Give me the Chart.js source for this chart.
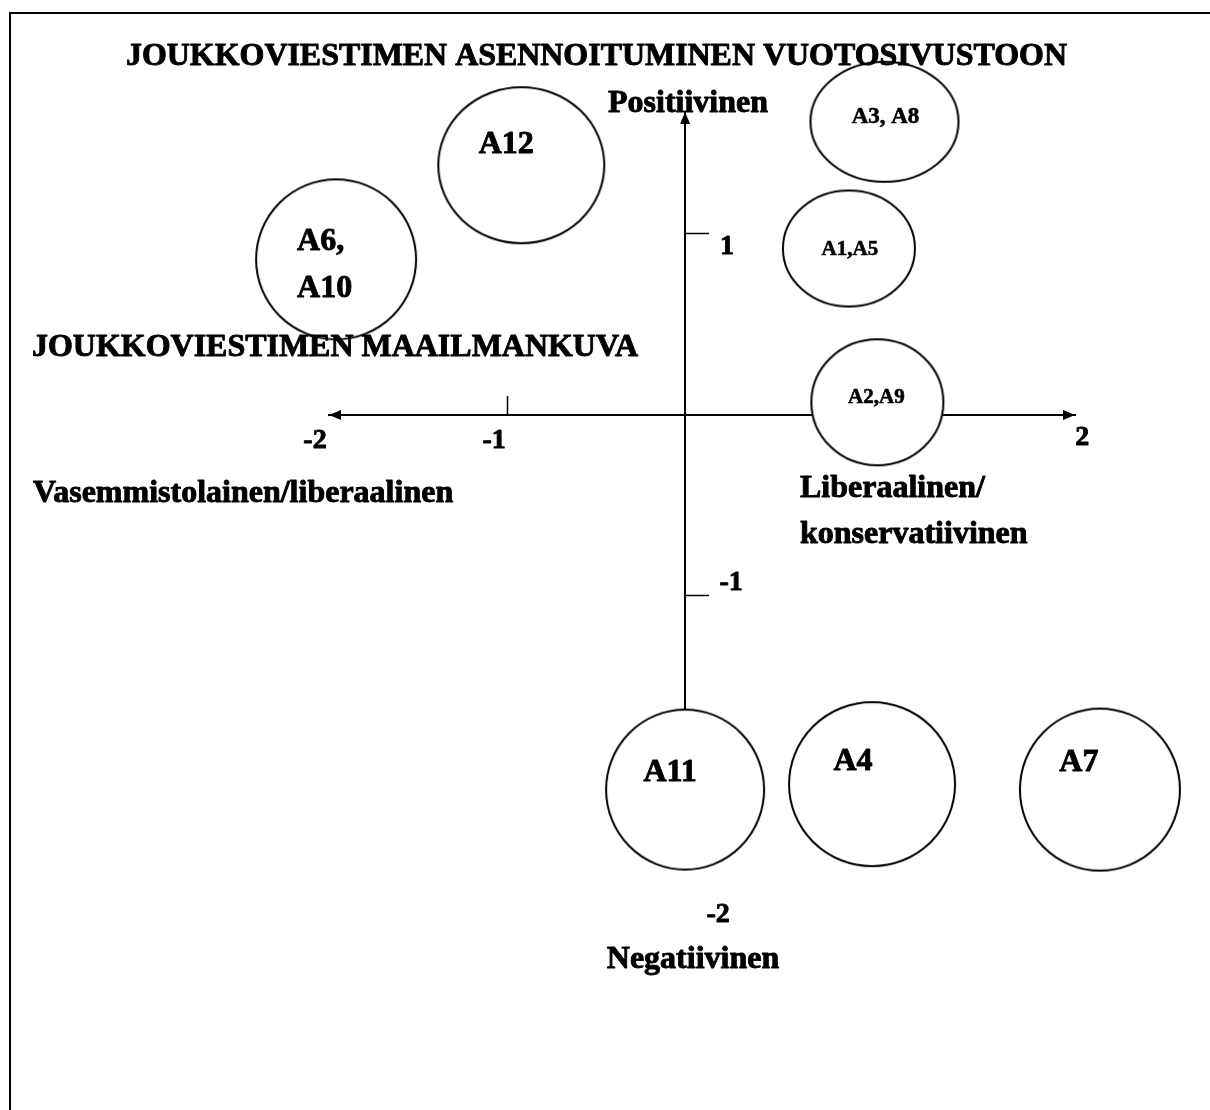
<!DOCTYPE html>
<html>
<head>
<meta charset="utf-8">
<script src="https://cdn.jsdelivr.net/npm/chart.js@4.4.1/dist/chart.umd.min.js"></script>
<style>
  html, body { margin: 0; padding: 0; background: #fff; overflow: hidden; }
  #wrap { width: 1210px; height: 1110px; position: relative; }
</style>
</head>
<body>
<div id="wrap"><canvas id="chart"></canvas></div>
<script>
const groupLabels = [['A12'], ['A6,', 'A10'], ['A3, A8'], ['A1,A5'], ['A2,A9'], ['A11'], ['A4'], ['A7']];
const xValues = [-0.92, -1.96, 1.12, 0.92, 1.08, 0, 1.05, 2.33];
const yValues = [1.38, 0.86, 1.62, 0.92, 0.07, -2.07, -2.04, -2.07];
const xTickValues = [-2, -1, 2];
const yTickValues = [1, -1, -2];
const xMarkedTicks = [-1];
const yMarkedTicks = [1, -1];
const xRange = [-2, 2.19];
const yRange = [-2.1, 1.674];
const chartTitle = 'JOUKKOVIESTIMEN ASENNOITUMINEN VUOTOSIVUSTOON';
const xAxisTitle = 'JOUKKOVIESTIMEN MAAILMANKUVA';
const yTopLabel = 'Positiivinen';
const yBottomLabel = 'Negatiivinen';
const xLeftLabel = 'Vasemmistolainen/liberaalinen';
const xRightLabel = ['Liberaalinen/', 'konservatiivinen'];

const FONT = '"Liberation Serif", "Times New Roman", serif';

// ellipse size and label placement for each group (px)
const bubbleStyle = [
  { rx: 83, ry: 78, size: 32, dx: -15, dy: -20 },
  { rx: 80, ry: 80, size: 32, dx: -39, dy: -18, align: 'left', gap: 47 },
  { rx: 74, ry: 60, size: 23, dx: 1, dy: -5 },
  { rx: 66, ry: 58, size: 21, dx: 1, dy: 1 },
  { rx: 66, ry: 63, size: 21, dx: -1, dy: -5 },
  { rx: 79, ry: 80, size: 32, dx: -15, dy: -17 },
  { rx: 83, ry: 82, size: 32, dx: -19, dy: -22 },
  { rx: 80, ry: 81, size: 32, dx: -21, dy: -27 }
];
const xTickNudge = { '-2': [-14, 26], '-1': [-13, 26], '2': [41, 23] };
const yTickNudge = { '1': [42, 13], '-1': [46, -13], '-2': [33, 138] };

function ellipseImage(rx, ry) {
  const c = document.createElement('canvas');
  c.width = 2 * rx + 6;
  c.height = 2 * ry + 6;
  const g = c.getContext('2d');
  g.beginPath();
  g.ellipse(c.width / 2, c.height / 2, rx, ry, 0, 0, Math.PI * 2);
  g.fillStyle = '#fff';
  g.fill();
  g.lineWidth = 2;
  g.strokeStyle = '#000';
  g.stroke();
  return c;
}
const shapes = bubbleStyle.map(s => ellipseImage(s.rx, s.ry));

function text(ctx, str, x, y, size, align, baseline, maxWidth) {
  ctx.font = 'bold ' + size + 'px ' + FONT;
  ctx.textAlign = align || 'left';
  ctx.textBaseline = baseline || 'alphabetic';
  ctx.fillStyle = '#000';
  ctx.strokeStyle = '#000';
  ctx.lineWidth = size > 25 ? 0.9 : 0.6;
  ctx.lineJoin = 'round';
  if (maxWidth) {
    ctx.fillText(str, x, y, maxWidth);
    ctx.strokeText(str, x, y, maxWidth);
  } else {
    ctx.fillText(str, x, y);
    ctx.strokeText(str, x, y);
  }
}

const paper = {
  id: 'paper',
  beforeDraw(chart) {
    const ctx = chart.ctx;
    ctx.save();
    ctx.fillStyle = '#fff';
    ctx.fillRect(0, 0, chart.width, chart.height);
    ctx.strokeStyle = '#000';
    ctx.lineWidth = 2;
    ctx.strokeRect(10, 13, chart.width + 40, chart.height + 40);
    ctx.restore();
  }
};

const arrows = {
  id: 'arrows',
  beforeDatasetsDraw(chart) {
    const { ctx, scales: { x, y } } = chart;
    const x0 = x.getPixelForValue(0);
    const y0 = y.getPixelForValue(0);
    const head = (tx, ty, dx, dy) => {
      const len = 12, w = 5;
      ctx.beginPath();
      ctx.moveTo(tx, ty);
      ctx.lineTo(tx - dx * len - dy * w, ty - dy * len - dx * w);
      ctx.lineTo(tx - dx * len + dy * w, ty - dy * len + dx * w);
      ctx.closePath();
      ctx.fill();
    };
    ctx.save();
    ctx.fillStyle = '#000';
    head(x.left, y0, -1, 0);
    head(x.right, y0, 1, 0);
    head(x0, y.top, 0, -1);
    ctx.restore();
  }
};

const labels = {
  id: 'labels',
  afterDatasetsDraw(chart) {
    const { ctx, scales: { x, y } } = chart;
    const x0 = x.getPixelForValue(0);
    const y0 = y.getPixelForValue(0);
    ctx.save();
    text(ctx, chartTitle, 126, 65, 32, 'left', 'alphabetic', 941);
    text(ctx, yTopLabel, 608, 112, 32);
    text(ctx, xAxisTitle, 32, 356, 32, 'left', 'alphabetic', 606);
    text(ctx, xLeftLabel, 33, 502, 32);
    text(ctx, xRightLabel[0], 800, 497, 32);
    text(ctx, xRightLabel[1], 800, 543, 32);
    text(ctx, yBottomLabel, 693, 968, 32, 'center');

    xTickValues.forEach(v => {
      const n = xTickNudge[String(v)];
      text(ctx, String(v), x.getPixelForValue(v) + n[0], y0 + n[1], 28, 'center', 'middle');
    });
    yTickValues.forEach(v => {
      const n = yTickNudge[String(v)];
      text(ctx, String(v), x0 + n[0], y.getPixelForValue(v) + n[1], 28, 'center', 'middle');
    });

    const meta = chart.getDatasetMeta(0);
    meta.data.forEach((pt, i) => {
      const s = bubbleStyle[i];
      groupLabels[i].forEach((line, k) => {
        text(ctx, line, pt.x + s.dx, pt.y + s.dy + k * (s.gap || 0), s.size, s.align || 'center', 'middle');
      });
    });
    ctx.restore();
  }
};

new Chart(document.getElementById('chart'), {
  type: 'scatter',
  data: {
    datasets: [{
      data: xValues.map((v, i) => ({ x: v, y: yValues[i] })),
      pointStyle: ctx => shapes[ctx.dataIndex],
      pointRadius: ctx => Math.max(bubbleStyle[ctx.dataIndex].rx, bubbleStyle[ctx.dataIndex].ry),
      clip: false
    }]
  },
  options: {
    responsive: true,
    maintainAspectRatio: false,
    animation: false,
    events: [],
    layout: { padding: { left: 329, right: 135, top: 112, bottom: 315 } },
    plugins: {
      legend: { display: false },
      tooltip: { enabled: false },
      title: { display: false }
    },
    scales: {
      x: {
        type: 'linear',
        min: xRange[0],
        max: xRange[1],
        position: { y: 0 },
        afterBuildTicks: axis => { axis.ticks = xTickValues.map(v => ({ value: v })); },
        ticks: { display: false },
        grid: {
          drawOnChartArea: false,
          drawTicks: true,
          tickLength: -20,
          tickWidth: 1.5,
          tickColor: ctx => xMarkedTicks.includes(ctx.tick.value) ? '#000' : 'rgba(0,0,0,0)'
        },
        border: { display: true, color: '#000', width: 2 }
      },
      y: {
        type: 'linear',
        min: yRange[0],
        max: yRange[1],
        position: { x: 0 },
        afterBuildTicks: axis => { axis.ticks = yTickValues.map(v => ({ value: v })); },
        ticks: { display: false },
        grid: {
          drawOnChartArea: false,
          drawTicks: true,
          tickLength: -25,
          tickWidth: 1.5,
          tickColor: ctx => yMarkedTicks.includes(ctx.tick.value) ? '#000' : 'rgba(0,0,0,0)'
        },
        border: { display: true, color: '#000', width: 2 }
      }
    }
  },
  plugins: [paper, arrows, labels]
});
</script>
</body>
</html>
